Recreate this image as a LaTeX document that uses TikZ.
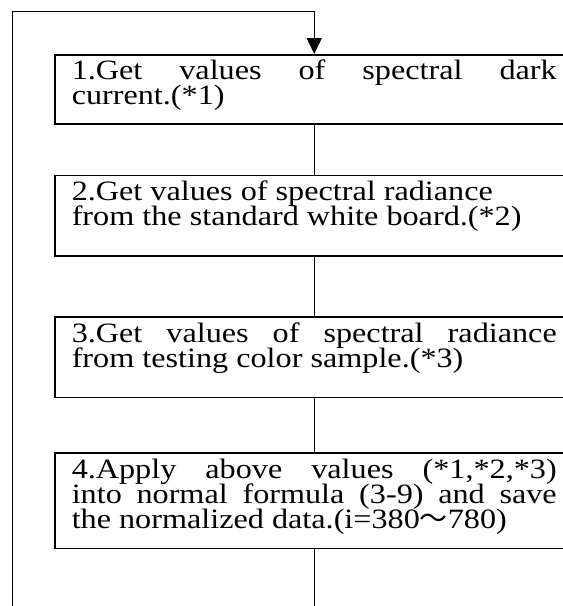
\documentclass[tikz,border=0pt]{standalone}
\usepackage{fontspec}
\newfontfamily\boxfont[FakeStretch=1.15]{Liberation Serif}
\newfontfamily\cjkfont{Noto Sans CJK JP}
\usetikzlibrary{arrows.meta, positioning}
\newcommand\stepfont{\boxfont\fontsize{28pt}{25pt}\selectfont
  \lineskiplimit=-30pt\relax\tolerance=10000\relax\hyphenpenalty=10000\relax}

\begin{document}
\begin{tikzpicture}[
  x=1pt, y=-1pt,
  box/.style={draw=black, line width=1.5pt, anchor=north west, inner xsep=17pt, inner ysep=4pt,
              text width=485pt, text height=21pt, align=justify, font=\stepfont},
  link/.style={line width=1.5pt, black},
  arr/.style={-{Triangle[length=16pt, width=15pt]}, line width=1.5pt, black}
]
\useasboundingbox (0,0) rectangle (563,606);
\clip (0,0) rectangle (563,606);
% Steps
\node[box, text depth=40.3pt](b1) at (54,54){1.Get values of spectral dark\linebreak current.(*1)};
\node[box, text depth=51.5pt, below=50pt of b1](b2){2.Get values of spectral radiance\\ from the standard white board.(*2)};
\node[box, text depth=51.5pt, below=59.5pt of b2](b3){3.Get values of spectral radiance\linebreak from testing color sample.(*3)};
\node[box, text depth=66.6pt, below=54pt of b3](b4){4.Apply above values (*1,*2,*3)\linebreak into normal formula (3-9) and save\linebreak the normalized data.(i=380{\cjkfont 〜}780)};
% Loop back
\coordinate (bot) at (12.7,650);
\coordinate (top) at (12.7,11.7);
% Arrows
\draw[link](b1)--(b2);
\draw[link](b2)--(b3);
\draw[link](b3)--(b4);
\draw[arr](b4.south)|-(bot)--(top)-|(b1.north);
\end{tikzpicture}
\end{document}
